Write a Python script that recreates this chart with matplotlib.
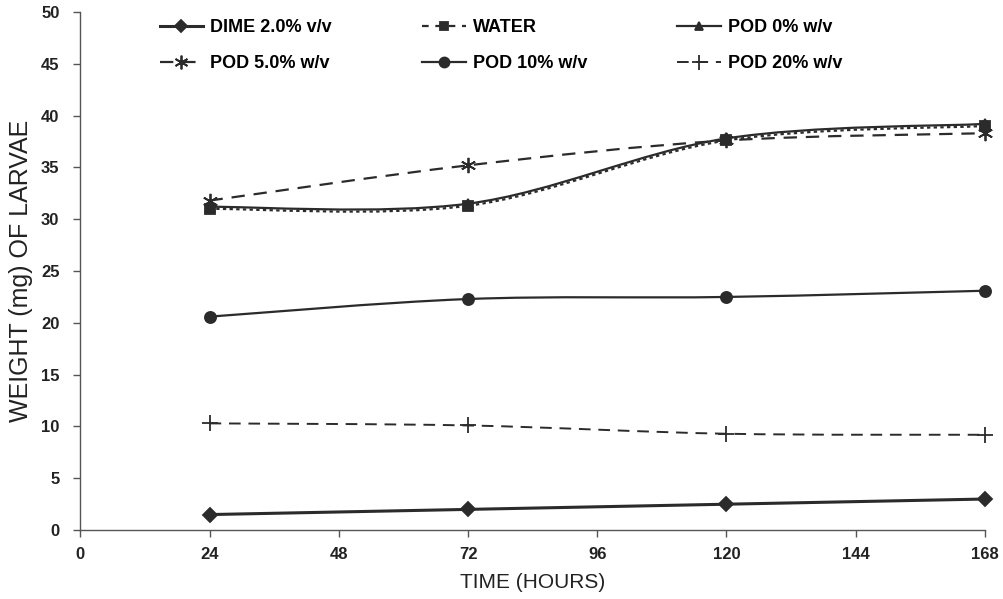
import matplotlib
matplotlib.use('Agg')
import matplotlib.pyplot as plt
import numpy as np
from matplotlib.path import Path
from matplotlib.patches import PathPatch
from matplotlib.lines import Line2D

plt.rcParams['font.family'] = ['Liberation Sans', 'DejaVu Sans']

hours = [24, 72, 120, 168]

dime = [1.5, 2.0, 2.5, 3.0]
water = [31.0, 31.3, 37.6, 39.0]
pod0 = [31.2, 31.5, 37.8, 39.2]
pod5 = [31.8, 35.2, 37.6, 38.3]
pod10 = [20.6, 22.3, 22.5, 23.1]
pod20 = [10.3, 10.1, 9.3, 9.2]

x_ticks = [0, 24, 48, 72, 96, 120, 144, 168]
y_ticks = [0, 5, 10, 15, 20, 25, 30, 35, 40, 45, 50]

INK = '#2b2b2b'


def smooth_path(x, y):
	# Excel-style smoothed line: cubic bezier through the points
	pts = np.column_stack([x, y]).astype(float)
	n = len(pts)
	verts = [pts[0]]
	codes = [Path.MOVETO]
	for i in range(n - 1):
		p0 = pts[max(i - 1, 0)]
		p1 = pts[i]
		p2 = pts[i + 1]
		p3 = pts[min(i + 2, n - 1)]
		verts += [p1 + (p2 - p0) / 6.0, p2 - (p3 - p1) / 6.0, p2]
		codes += [Path.CURVE4] * 3
	return Path(verts, codes)


def main():
	fig = plt.figure(figsize=(10.04, 5.99), dpi=100)
	ax = fig.add_axes([0.08, 0.115, 0.901, 0.865])

	series = [
		# label, values, linestyle, marker, marker size, lw
		('DIME 2.0% v/v', dime, '-', 'D', 7, 2.2),
		('WATER', water, (0, (1.5, 1.5)), 's', 7, 1.6),
		('POD 0% w/v', pod0, '-', '^', 7, 1.6),
		('POD 5.0% w/v', pod5, (0, (6, 4)), (6, 2, 0), 11, 1.6),
		('POD 10% w/v', pod10, '-', 'o', 8, 1.6),
		('POD 20% w/v', pod20, (0, (6, 4)), '+', 12, 1.4),
	]

	handles = {}
	for label, vals, ls, mk, ms, lw in series:
		ax.add_patch(PathPatch(smooth_path(hours, vals), fill=False,
							   ec=INK, lw=lw, ls=ls))
		ax.plot(hours, vals, ls='none', marker=mk, ms=ms, color=INK,
				mec=INK, mew=1.3, clip_on=False)
		leg_ls = (0, (3, 3)) if label == 'WATER' else ls
		handles[label] = Line2D([], [], color=INK, lw=lw, ls=leg_ls, marker=mk,
								ms=ms * 0.9, mew=1.3)

	ax.set_xlim(0, 168)
	ax.set_ylim(0, 50)
	ax.set_xticks(x_ticks)
	ax.set_yticks(y_ticks)
	ax.spines['top'].set_visible(False)
	ax.spines['right'].set_visible(False)
	for s in ['left', 'bottom']:
		ax.spines[s].set_color('#555555')
		ax.spines[s].set_linewidth(1.0)
	ax.tick_params(axis='both', direction='out', length=5, width=1.0,
				   color='#555555', labelsize=12, labelcolor='#222222')
	ax.tick_params(axis='x', pad=7)
	ax.tick_params(axis='y', pad=10)
	for lab in ax.get_xticklabels() + ax.get_yticklabels():
		lab.set_fontweight('bold')

	ax.set_xlabel('TIME (HOURS)', fontsize=15, color='#222222', labelpad=8)
	ax.set_ylabel('WEIGHT (mg) OF LARVAE', fontsize=18, color='#222222',
				  labelpad=6)

	# ncol=3 fills column-wise, so order entries accordingly
	order = ['DIME 2.0% v/v', 'POD 5.0% w/v', 'WATER', 'POD 10% w/v',
			 'POD 0% w/v', 'POD 20% w/v']
	fig.legend([handles[k] for k in order], order, ncol=3,
			   loc='upper left', bbox_to_anchor=(0.143, 0.995),
			   frameon=False, handlelength=2.4, handletextpad=0.4,
			   columnspacing=5.0, labelspacing=1.05,
			   prop={'weight': 'bold', 'size': 13})

	fig.savefig('out.png', dpi=100)


if __name__ == '__main__':
	main()
